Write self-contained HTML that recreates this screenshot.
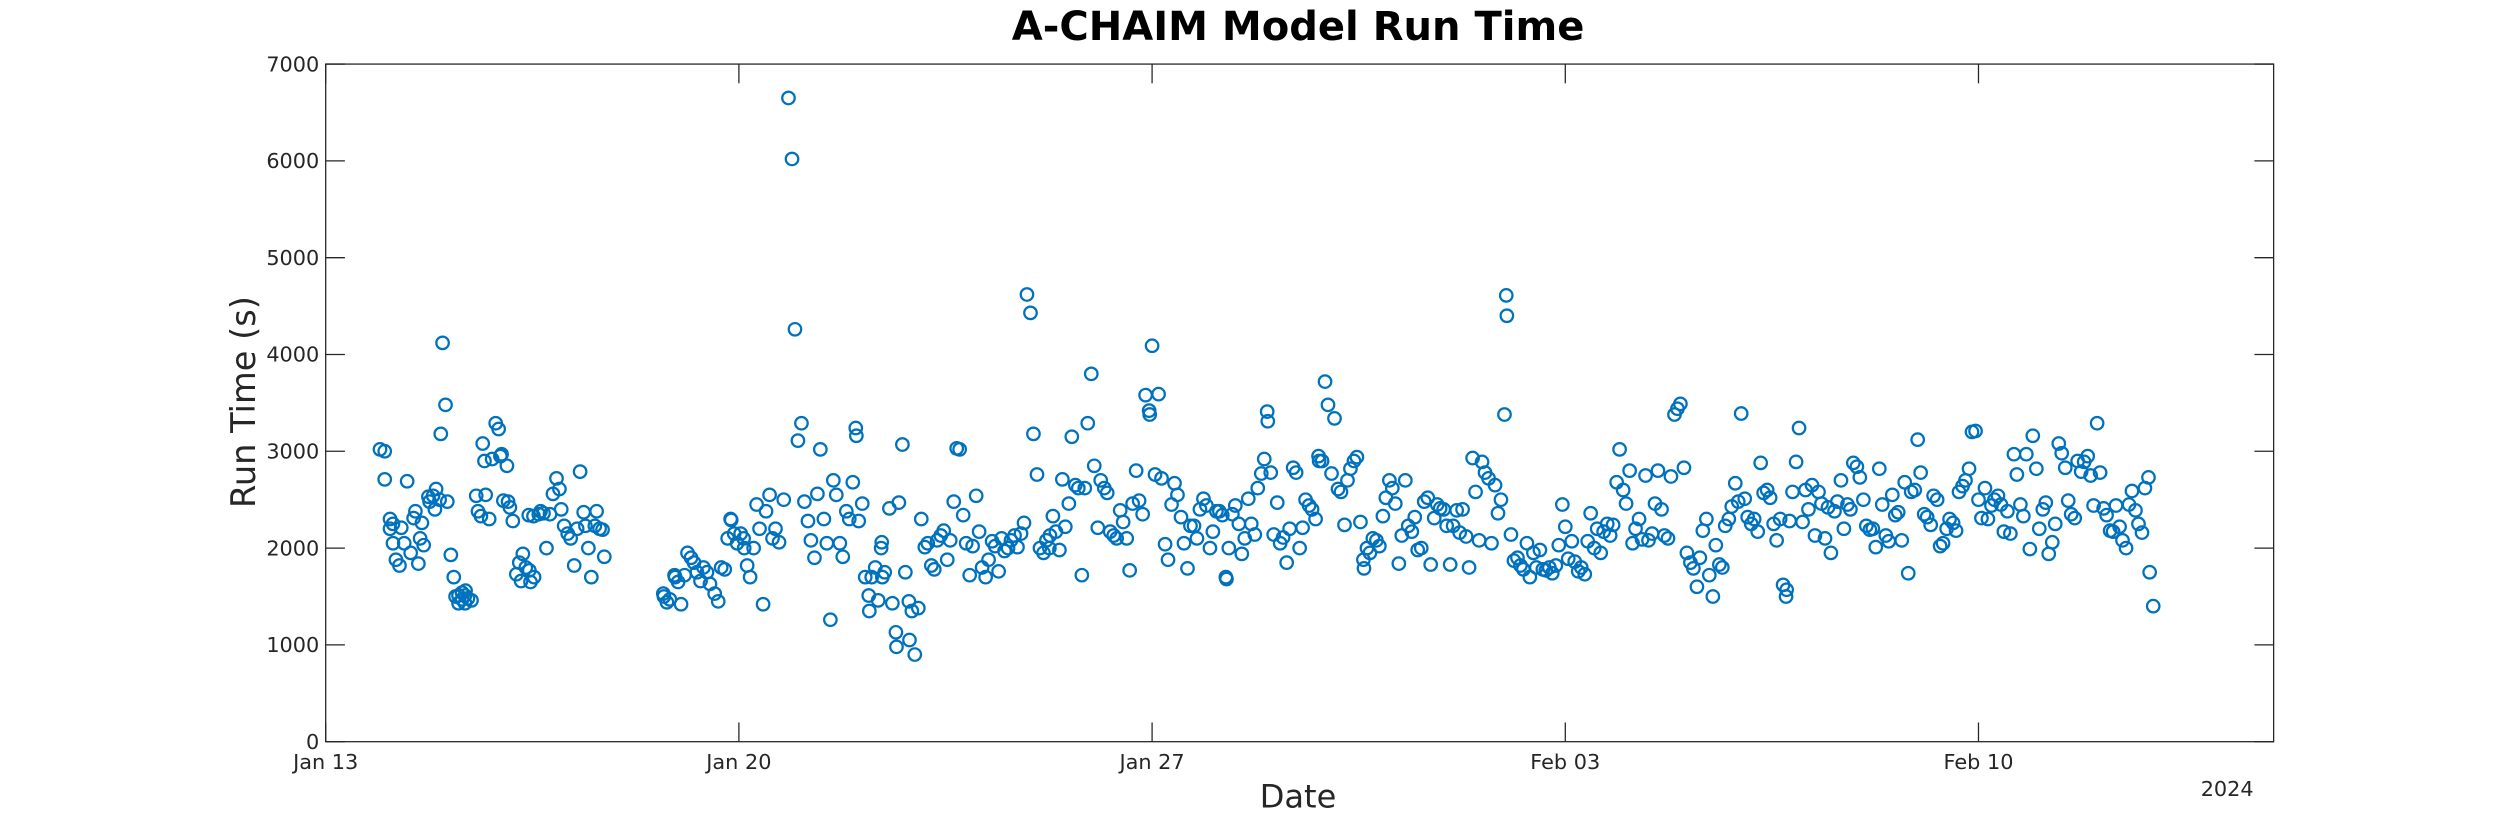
<!DOCTYPE html>
<html><head><meta charset="utf-8"><title>A-CHAIM Model Run Time</title>
<style>html,body{margin:0;padding:0;background:#fff;}svg{display:block;}text{font-family:"DejaVu Sans","Liberation Sans",sans-serif;fill:#262626;}</style>
</head><body>
<svg id="chart" width="2500" height="833" viewBox="0 0 1560 520" xmlns="http://www.w3.org/2000/svg">
<rect x="0" y="0" width="1560" height="520" fill="#fff"/>
<text x="810" y="25" text-anchor="middle" font-size="25" font-weight="bold" style="fill:#000">A-CHAIM Model Run Time</text>
<g id="axes"></g>
<g id="marks"></g>
<text transform="translate(159,251) rotate(-90)" text-anchor="middle" font-size="21">Run Time (s)</text>
<text x="810" y="504" text-anchor="middle" font-size="20">Date</text>
<text x="1390" y="497" text-anchor="middle" font-size="13">2024</text>
</svg>
<script>
const yTicks=[0,1000,2000,3000,4000,5000,6000,7000];
const xTickDays=[0,7,14,21,28];
const xTickLabels=["Jan 13","Jan 20","Jan 27","Feb 03","Feb 10"];
const xDomain=[0,33];
const yDomain=[0,7000];
// samples: [days since Jan 13 2024, run time in seconds]
const samples=[
[0.92,3020],[1.00,3000],[1.00,2710],[1.09,2300],[1.09,2200],[1.14,2050],[1.14,2250],[1.19,1880],[1.25,1820],[1.28,2210],[1.33,2050],[1.38,2690],[1.44,1950],[1.49,2310],[1.52,2380],[1.57,1840],[1.60,2100],[1.63,2260],[1.66,2030],[1.74,2530],[1.76,2480],[1.82,2540],[1.85,2400],[1.87,2610],[1.93,2500],[1.95,3180],[1.98,4120],[2.03,3480],[2.06,2480],
[2.12,1930],[2.17,1700],[2.20,1500],[2.25,1510],[2.25,1430],[2.31,1470],[2.31,1540],[2.36,1430],[2.36,1510],[2.37,1560],[2.41,1480],[2.47,1460],[2.55,2540],[2.58,2380],[2.63,2330],[2.66,3080],[2.69,2900],[2.71,2550],[2.77,2300],[2.82,2920],[2.88,3290],[2.93,3230],[2.96,2950],[2.98,2970],[3.01,2490],[3.07,2850],[3.09,2480],[3.12,2420],[3.17,2280],[3.23,1730],[3.28,1850],[3.31,1660],[3.34,1940],[3.39,1800],[3.45,1770],[3.47,1650],[3.53,1700],[3.44,2340],[3.52,2330],[3.61,2350],[3.64,2380],[3.69,2360],[3.74,2000],[3.80,2350],[3.85,2560],[3.91,2720],[3.96,2610],[3.99,2400],[4.04,2230],[4.10,2150],[4.15,2100],[4.21,1820],[4.26,2200],[4.31,2790],[4.37,2370],[4.40,2230],[4.45,2000],[4.50,1700],[4.56,2230],[4.59,2380],[4.64,2200],[4.69,2190],[4.72,1910],
[5.72,1530],[5.73,1500],[5.78,1440],[5.83,1470],[5.91,1720],[5.92,1700],[5.97,1650],[6.02,1420],[6.08,1720],[6.13,1950],[6.19,1900],[6.24,1850],[6.29,1750],[6.35,1660],[6.40,1800],[6.46,1750],[6.51,1630],[6.59,1530],[6.65,1450],[6.70,1800],[6.76,1780],[6.81,2100],[6.86,2300],[6.87,2290],[6.92,2150],[6.97,2050],[7.03,2150],[7.08,2100],[7.09,2000],[7.14,1820],[7.19,1700],[7.25,2000],[7.30,2450],[7.35,2200],[7.41,1420],[7.46,2380],[7.52,2550],[7.57,2100],[7.62,2200],[7.68,2060],[7.76,2500],[7.84,6650],[7.90,6020],[7.95,4260],[8.00,3110],[8.06,3290],[8.11,2480],[8.17,2280],[8.22,2080],[8.28,1900],[8.33,2560],[8.38,3020],[8.44,2300],[8.49,2050],[8.55,1260],[8.60,2700],[8.65,2550],[8.71,2050],[8.76,1910],[8.82,2380],[8.87,2300],[8.93,2680],[8.98,3240],[8.99,3160],[9.03,2280],[9.09,2460],[9.14,1700],[9.20,1510],[9.21,1350],[9.25,1700],[9.31,1800],[9.36,1460],[9.41,2000],[9.42,2060],[9.43,1700],[9.47,1750],[9.55,2410],[9.60,1430],[9.66,1130],[9.67,980],[9.71,2470],[9.77,3070],[9.82,1750],[9.88,1450],[9.89,1050],[9.93,1350],[9.98,900],[10.04,1380],
[10.09,2300],[10.15,2010],[10.20,2050],[10.26,1820],[10.31,1780],[10.36,2080],[10.42,2130],[10.47,2180],[10.53,1880],[10.58,2080],[10.64,2480],[10.69,3030],[10.74,3020],[10.80,2340],[10.85,2050],[10.91,1720],[10.96,2020],[11.02,2540],[11.07,2170],[11.12,1800],[11.18,1700],[11.23,1880],[11.29,2070],[11.34,2020],[11.40,1760],[11.45,2100],[11.50,1970],[11.56,2000],[11.61,2080],[11.67,2130],[11.72,2010],[11.78,2150],[11.83,2260],[11.88,4620],[11.94,4430],[11.99,3180],[12.05,2760],[12.10,2000],[12.16,1950],[12.21,2080],[12.26,2000],[12.27,2130],[12.32,2330],[12.37,2170],[12.43,1980],[12.48,2710],[12.53,2220],[12.59,2460],[12.64,3150],[12.70,2650],[12.75,2620],[12.81,1720],[12.86,2620],[12.91,3290],[12.97,3800],[13.02,2850],[13.08,2210],[13.13,2700],[13.19,2620],[13.24,2570],[13.29,2170],[13.35,2130],[13.40,2100],[13.46,2390],[13.51,2270],[13.57,2100],[13.62,1770],[13.67,2460],[13.73,2800],[13.78,2490],[13.84,2350],[13.89,3580],[13.95,3420],[13.96,3380],[14.00,4090],[14.05,2760],[14.11,3590],[14.16,2720],[14.22,2040],[14.27,1880],[14.33,2450],[14.38,2670],[14.43,2550],[14.49,2320],[14.54,2050],[14.60,1790],[14.65,2230],[14.71,2230],[14.76,2100],[14.81,2400],[14.87,2510],[14.92,2440],[14.98,2000],
[15.03,2170],[15.09,2380],[15.14,2380],[15.19,2340],[15.25,1700],[15.26,1680],[15.30,2000],[15.36,2350],[15.41,2440],[15.47,2250],[15.52,1940],[15.57,2100],[15.63,2510],[15.68,2250],[15.74,2140],[15.79,2620],[15.85,2770],[15.90,2920],[15.95,3410],[15.96,3310],[16.01,2780],[16.06,2140],[16.12,2470],[16.17,2050],[16.22,2110],[16.28,1850],[16.33,2200],[16.39,2830],[16.44,2780],[16.50,2000],[16.55,2210],[16.60,2500],[16.66,2440],[16.71,2400],[16.77,2300],[16.82,2950],[16.83,2900],[16.88,2900],[16.93,3720],[16.98,3480],[17.04,2770],[17.09,3340],[17.15,2610],[17.20,2580],[17.26,2240],[17.31,2700],[17.36,2820],[17.42,2900],[17.47,2940],[17.53,2270],[17.58,1880],[17.59,1790],[17.64,2000],[17.69,1950],[17.74,2100],[17.80,2080],[17.85,2020],[17.91,2330],[17.96,2520],[18.02,2700],[18.07,2620],[18.12,2460],[18.18,1840],[18.23,2130],[18.29,2700],[18.34,2230],[18.40,2170],[18.45,2320],[18.50,1980],[18.56,2000],[18.61,2480],[18.67,2520],[18.72,1830],[18.78,2310],[18.83,2450],[18.88,2410],[18.94,2400],[18.99,2230],[19.05,1830],[19.10,2230],[19.16,2390],[19.21,2160],[19.26,2400],[19.32,2120],[19.37,1800],[19.43,2930],[19.48,2580],[19.54,2080],[19.59,2890],[19.64,2780],[19.70,2720],[19.75,2050],[19.81,2650],[19.86,2360],[19.91,2500],[19.97,3380],[20.00,4610],[20.01,4400],
[20.08,2140],[20.13,1870],[20.19,1900],[20.24,1820],[20.29,1780],[20.35,2050],[20.40,1700],[20.46,1950],[20.51,1800],[20.57,1980],[20.62,1780],[20.67,1770],[20.73,1800],[20.78,1740],[20.84,1820],[20.89,2030],[20.95,2450],[21.00,2220],[21.05,1890],[21.11,2070],[21.16,1860],[21.22,1760],[21.27,1800],[21.33,1730],[21.38,2070],[21.43,2360],[21.49,2000],[21.54,2200],[21.60,1950],[21.65,2170],[21.71,2250],[21.76,2130],[21.81,2240],[21.87,2680],[21.92,3020],[21.98,2600],[22.03,2460],[22.09,2800],[22.14,2050],[22.19,2200],[22.25,2300],[22.30,2090],[22.36,2750],[22.41,2080],[22.47,2150],[22.52,2460],[22.57,2800],[22.63,2400],[22.68,2130],[22.74,2100],[22.79,2740],[22.85,3380],[22.90,3440],[22.95,3490],[23.01,2830],[23.06,1950],[23.12,1850],[23.17,1790],[23.23,1600],[23.28,1900],[23.33,2180],[23.39,2300],[23.44,1720],[23.50,1500],[23.55,2030],[23.61,1830],[23.66,1800],[23.71,2230],[23.77,2300],[23.82,2430],[23.88,2670],[23.93,2480],[23.98,3390],[24.04,2510],[24.09,2320],[24.15,2250],[24.20,2300],[24.26,2170],[24.31,2880],[24.36,2570],[24.42,2600],[24.47,2520],[24.53,2250],[24.58,2080],[24.64,2300],[24.69,1620],[24.74,1500],[24.75,1570],[24.80,2280],[24.85,2580],[24.91,2890],[24.96,3240],
[25.02,2270],[25.07,2600],[25.12,2400],[25.18,2650],[25.23,2130],[25.29,2580],[25.34,2460],[25.40,2100],[25.45,2420],[25.50,1950],[25.56,2380],[25.61,2480],[25.67,2700],[25.72,2200],[25.78,2450],[25.83,2400],[25.88,2880],[25.94,2840],[25.99,2730],[26.05,2500],[26.10,2230],[26.16,2190],[26.21,2200],[26.26,2010],[26.32,2820],[26.37,2450],[26.43,2130],[26.48,2070],[26.54,2550],[26.59,2340],[26.64,2370],[26.70,2080],[26.75,2680],[26.81,1740],[26.86,2580],[26.92,2600],[26.97,3120],[27.02,2780],[27.08,2350],[27.13,2320],[27.19,2240],[27.24,2540],[27.30,2500],[27.35,2020],[27.40,2050],[27.46,2200],[27.51,2300],[27.57,2260],[27.62,2180],[27.67,2580],[27.73,2640],[27.78,2700],[27.84,2820],[27.89,3200],[27.95,3210],[28.00,2500],[28.05,2310],[28.11,2620],[28.16,2300],[28.22,2440],[28.27,2500],[28.33,2540],[28.38,2450],[28.43,2170],[28.49,2380],[28.54,2150],[28.60,2970],[28.65,2760],[28.71,2450],[28.76,2330],[28.81,2970],[28.87,1990],[28.92,3160],[28.98,2820],[29.03,2200],[29.09,2400],[29.14,2470],[29.19,1940],[29.25,2060],[29.30,2250],[29.36,3080],[29.41,2980],[29.47,2830],[29.52,2490],[29.57,2350],[29.63,2310],[29.68,2900],[29.74,2790],[29.79,2890],[29.85,2950],[29.90,2750],[29.95,2440],[30.01,3290],[30.06,2780],[30.12,2410],[30.17,2340],[30.23,2180],[30.28,2170],[30.33,2440],[30.39,2220],[30.44,2080],[30.50,2000],[30.55,2450],[30.60,2590],[30.66,2390],[30.71,2250],[30.77,2160],[30.82,2620],[30.88,2730],[30.90,1750],[30.96,1400]
];
const NS="http://www.w3.org/2000/svg";
const PL=203,PR=1419,PT=40,PB=463;
function xs(d){return PL+(d-xDomain[0])/(xDomain[1]-xDomain[0])*(PR-PL);}
function ys(v){return PB-(v-yDomain[0])/(yDomain[1]-yDomain[0])*(PB-PT);}
function mk(tag,attrs,parent){const e=document.createElementNS(NS,tag);for(const k in attrs)e.setAttribute(k,attrs[k]);parent.appendChild(e);return e;}
const axes=document.getElementById('axes');
const marks=document.getElementById('marks');
const frame=mk('rect',{x:PL,y:PT,width:PR-PL,height:PB-PT,fill:'none',stroke:'#262626','stroke-width':0.8},axes);


yTicks.forEach(v=>{
  const y=ys(v);
  const t1=mk('line',{x1:PL,x2:PL+12,y1:y,y2:y,stroke:'#262626','stroke-width':0.8},axes);
  
  
  const t2=mk('line',{x1:PR-12,x2:PR,y1:y,y2:y,stroke:'#262626','stroke-width':0.8},axes);
  
  
  const lb=mk('text',{x:PL-4,y:y+4.5,'text-anchor':'end','font-size':13},axes);
  lb.textContent=String(v);
  
  
});
xTickDays.forEach((d,i)=>{
  const x=xs(d);
  const t1=mk('line',{x1:x,x2:x,y1:PB,y2:PB-12,stroke:'#262626','stroke-width':0.8},axes);
  
  
  const t2=mk('line',{x1:x,x2:x,y1:PT,y2:PT+12,stroke:'#262626','stroke-width':0.8},axes);
  
  
  const lb=mk('text',{x:x,y:480,'text-anchor':'middle','font-size':13},axes);
  lb.textContent=xTickLabels[i];
  
  
});
samples.forEach(s=>{
  const c=mk('circle',{cx:xs(s[0]).toFixed(2),cy:ys(s[1]).toFixed(2),r:3.9,fill:'none',stroke:'#0072BD','stroke-width':1.4},marks);
  
  
});
</script>
</body></html>
